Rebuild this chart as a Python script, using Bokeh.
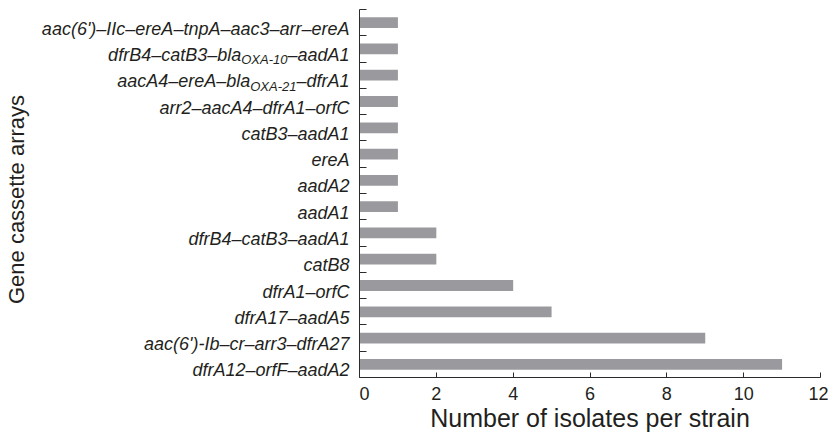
import re
from bokeh.plotting import figure
from bokeh.models import ColumnDataSource, Range1d, FixedTicker
from bokeh.layouts import row
from bokeh.embed import file_html
from bokeh.resources import INLINE
from bokeh.core.properties import value

# ---------------- data ----------------
categories = [
    "aac(6')–IIc–ereA–tnpA–aac3–arr–ereA",
    "dfrB4–catB3–bla_{OXA-10}–aadA1",
    "aacA4–ereA–bla_{OXA-21}–dfrA1",
    "arr2–aacA4–dfrA1–orfC",
    "catB3–aadA1",
    "ereA",
    "aadA2",
    "aadA1",
    "dfrB4–catB3–aadA1",
    "catB8",
    "dfrA1–orfC",
    "dfrA17–aadA5",
    "aac(6')-Ib–cr–arr3–dfrA27",
    "dfrA12–orfF–aadA2",
]
isolates = [1, 1, 1, 1, 1, 1, 1, 1, 2, 2, 4, 5, 9, 11]
x_ticks = [0, 2, 4, 6, 8, 10, 12]
x_title = "Number of isolates per strain"
y_title = "Gene cassette arrays"

# ---------------- styling ----------------
FONT = "Liberation Sans"
TXT = "#231f20"
AXIS = "#2b2b2b"
BAR = "#9a999e"
LABEL_PX = 18
SUB_PX = 13
GAP = 10

# Liberation Sans (Arial-metric) advance widths, per 1000 em
_W = dict(zip("abcdefghijklmnopqrstuvwxyz",
              [556, 556, 500, 556, 556, 278, 556, 556, 222, 222, 500, 222, 833,
               556, 556, 556, 556, 333, 500, 278, 556, 500, 722, 500, 500, 500]))
_W.update({"A": 667, "B": 667, "C": 722, "F": 611, "I": 278, "O": 778, "X": 667,
           "(": 333, ")": 333, "'": 191, "–": 556, "-": 333, " ": 278})
for d in "0123456789":
    _W[d] = 556


def text_width(s, px):
    return sum(_W.get(ch, 556) for ch in s) / 1000.0 * px


n = len(categories)
ys = [n - i - 0.5 for i in range(n)]
boundaries = list(range(0, n + 1))

main = dict(x=[], y=[], text=[], xo=[])
subs = dict(x=[], y=[], text=[], xo=[])
for cat, yv in zip(categories, ys):
    m = re.match(r"^(.*)_\{(.*)\}(.*)$", cat)
    if m:
        pre, sub, suf = m.groups()
        w_suf = text_width(suf, LABEL_PX)
        w_sub = text_width(sub, SUB_PX)
        main["x"] += [1, 1]
        main["y"] += [yv, yv]
        main["text"] += [pre, suf]
        main["xo"] += [-(GAP + w_suf + w_sub), -GAP]
        subs["x"].append(1)
        subs["y"].append(yv)
        subs["text"].append(sub)
        subs["xo"].append(-(GAP + w_suf))
    else:
        main["x"].append(1)
        main["y"].append(yv)
        main["text"].append(cat)
        main["xo"].append(-GAP)

FRAME_H = 368
TOP = 9
PAD = 12  # extra room below the label frame so descenders are not clipped
y_range = Range1d(0, n)
y_range_left = Range1d(-PAD * n / FRAME_H, n)

# ---------------- left figure: category labels ----------------
lf = figure(width=359, frame_height=FRAME_H + PAD, x_range=Range1d(0, 1), y_range=y_range_left,
            output_backend="svg", toolbar_location=None, x_axis_location=None,
            min_border_top=TOP, min_border_bottom=0, min_border_left=0, min_border_right=0)
lf.outline_line_color = None
lf.grid.visible = False
lf.yaxis.ticker = FixedTicker(ticks=[])
lf.yaxis.axis_line_color = None
lf.yaxis.major_tick_in = 0
lf.yaxis.major_tick_out = 0
lf.yaxis.minor_tick_in = 0
lf.yaxis.minor_tick_out = 0
lf.yaxis.axis_label = y_title
lf.yaxis.axis_label_text_font = FONT
lf.yaxis.axis_label_text_font_size = "22px"
lf.yaxis.axis_label_text_font_style = "normal"
lf.yaxis.axis_label_text_color = TXT
lf.yaxis.axis_label_standoff = 0

lf.text(x="x", y="y", text="text", x_offset="xo", y_offset=6,
        source=ColumnDataSource(main), text_align="right", text_baseline="alphabetic",
        text_font=value(FONT), text_font_style="italic", text_font_size=value(f"{LABEL_PX}px"),
        text_color=TXT)
lf.text(x="x", y="y", text="text", x_offset="xo", y_offset=11,
        source=ColumnDataSource(subs), text_align="right", text_baseline="alphabetic",
        text_font=value(FONT), text_font_style="italic", text_font_size=value(f"{SUB_PX}px"),
        text_color=TXT)

# ---------------- right figure: bars ----------------
rf = figure(frame_width=461, frame_height=FRAME_H, x_range=Range1d(0, 12), y_range=y_range,
            output_backend="svg", toolbar_location=None,
            min_border_top=TOP, min_border_bottom=0, min_border_left=0, min_border_right=8)
rf.outline_line_color = None
rf.grid.visible = False

rf.hbar(y=ys, right=isolates, left=0, height=0.41, fill_color=BAR, line_color=None)

rf.xaxis.ticker = FixedTicker(ticks=x_ticks)
rf.xaxis.major_tick_in = 5
rf.xaxis.major_tick_out = 0
rf.xaxis.minor_tick_in = 0
rf.xaxis.minor_tick_out = 0
rf.xaxis.axis_line_color = AXIS
rf.xaxis.major_tick_line_color = AXIS
rf.xaxis.major_label_text_font = FONT
rf.xaxis.major_label_text_font_size = "18px"
rf.xaxis.major_label_text_color = TXT
rf.xaxis.major_label_standoff = 9
rf.xaxis.axis_label = x_title
rf.xaxis.axis_label_text_font = FONT
rf.xaxis.axis_label_text_font_size = "25px"
rf.xaxis.axis_label_text_font_style = "normal"
rf.xaxis.axis_label_text_color = TXT
rf.xaxis.axis_label_standoff = 1

rf.yaxis.ticker = FixedTicker(ticks=boundaries)
rf.yaxis.major_label_overrides = {b: "" for b in boundaries}
rf.yaxis.major_label_standoff = 0
rf.yaxis.major_tick_in = 7
rf.yaxis.major_tick_out = 0
rf.yaxis.minor_tick_in = 0
rf.yaxis.minor_tick_out = 0
rf.yaxis.axis_line_color = AXIS
rf.yaxis.major_tick_line_color = AXIS

layout = row(lf, rf)
open("out.html", "w").write(file_html(layout, INLINE))
